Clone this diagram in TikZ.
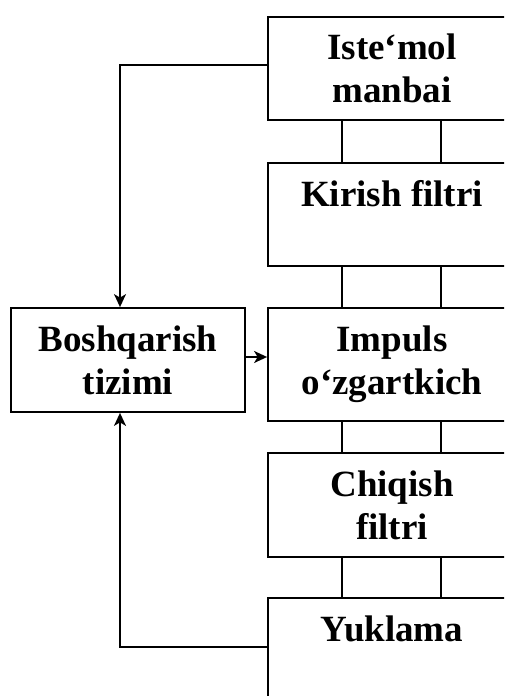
\documentclass[tikz,border=0pt]{standalone}
\usepackage{fontspec}
\setmainfont{Liberation Serif}
\usetikzlibrary{arrows.meta}
\begin{document}
\begin{tikzpicture}[x=1pt,y=1pt,
  blk/.style={draw, line width=1.8pt, rectangle, inner sep=0pt, align=center,
    font=\fontsize{37}{43}\selectfont\bfseries},
  link/.style={line width=1.3pt},
  fb/.style={line width=1.6pt, -{Stealth[length=13pt,width=12pt,inset=3.5pt]}}]
\useasboundingbox (0,0) rectangle (504,696);
\clip (0,0) rectangle (504,696);
\node[blk, minimum width=248pt, minimum height=103pt] (b1) at (392,627.5) {Iste‘mol\\manbai};
\node[blk, minimum width=248pt, minimum height=103pt] (b2) at (392,481.5) {Kirish filtri\\\mbox{}};
\node[blk, minimum width=248pt, minimum height=113pt] (b3) at (392,331.5) {Impuls\\o‘zgartkich};
\node[blk, minimum width=248pt, minimum height=104pt] (b4) at (392,191) {Chiqish\\filtri};
\node[blk, minimum width=248pt, minimum height=104pt] (b5) at (392,46) {Yuklama\\\mbox{}};
\node[blk, minimum width=234pt, minimum height=104pt] (ctrl) at (128,336) {Boshqarish\\tizimi};
\foreach \u/\v in {b1/b2,b2/b3,b3/b4,b4/b5}{
  \draw[link] ([xshift=-50pt]\u.south) -- ([xshift=-50pt]\v.north);
  \draw[link] ([xshift=49pt]\u.south) -- ([xshift=49pt]\v.north);
}
\draw[fb] ([yshift=3.5pt]b1.west) -| ([xshift=-8pt]ctrl.north);
\draw[fb] ([yshift=3pt]b5.west) -| ([xshift=-8pt]ctrl.south);
\draw[fb] ([yshift=3pt]ctrl.east) -- ([yshift=3pt]ctrl.east -| b3.west);
\end{tikzpicture}
\end{document}
